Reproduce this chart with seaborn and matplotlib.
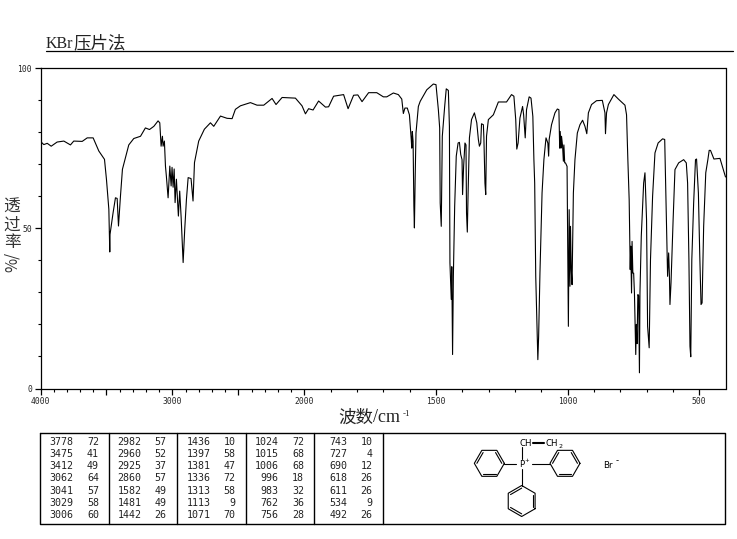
import numpy as np
import matplotlib
matplotlib.use('Agg')
import matplotlib.pyplot as plt
from matplotlib.ticker import FixedLocator, FixedFormatter
import pandas as pd
import seaborn as sns

# spectrum: wavenumber (cm-1) and transmittance (%)
wavenumber = [
    4000, 3995, 3975, 3949, 3919, 3874, 3823, 3773, 3748, 3684, 3646, 3601, 3558, 3515, 3500, 3482,
    3478, 3475, 3473, 3450, 3432, 3419, 3409, 3394, 3379, 3331, 3293, 3242, 3205, 3174, 3141, 3109,
    3096, 3086, 3076, 3071, 3061, 3053, 3046, 3033, 3020, 3010, 3003, 2995, 2987, 2980, 2970, 2955,
    2945, 2934, 2919, 2907, 2894, 2881, 2859, 2844, 2833, 2801, 2758, 2712, 2687, 2636, 2586, 2548,
    2523, 2485, 2409, 2359, 2308, 2245, 2215, 2169, 2068, 2018, 1996, 1984, 1967, 1946, 1920, 1908,
    1889, 1851, 1834, 1813, 1797, 1781, 1756, 1725, 1700, 1687, 1662, 1643, 1630, 1624, 1618, 1609,
    1601, 1594, 1592, 1590, 1587, 1584, 1582, 1579, 1576, 1567, 1560, 1535, 1510, 1500, 1491, 1486,
    1484, 1480, 1476, 1467, 1461, 1453, 1449, 1447, 1442, 1440, 1437, 1434, 1429, 1423, 1416, 1411,
    1406, 1401, 1399, 1395, 1390, 1386, 1384, 1381, 1378, 1373, 1365, 1354, 1345, 1339, 1335, 1330,
    1327, 1320, 1318, 1314, 1311, 1308, 1301, 1282, 1263, 1232, 1213, 1204, 1197, 1193, 1188, 1181,
    1171, 1167, 1161, 1156, 1146, 1139, 1132, 1128, 1125, 1121, 1115, 1113, 1110, 1105, 1097, 1090,
    1082, 1075, 1072, 1070, 1061, 1048, 1039, 1033, 1030, 1028, 1025, 1023, 1019, 1016, 1014, 1011,
    1008, 1002, 997, 994, 991, 989, 986, 983, 978, 972, 963, 953, 943, 934, 927, 921,
    909, 890, 868, 858, 856, 852, 845, 824, 807, 782, 776, 771, 766, 762, 760, 757,
    755, 752, 749, 746, 741, 739, 736, 733, 730, 727, 725, 720, 711, 706, 700, 696,
    690, 685, 677, 668, 656, 639, 631, 626, 620, 616, 613, 611, 607, 599, 592, 578,
    559, 549, 544, 539, 535, 532, 528, 521, 514, 510, 503, 498, 493, 489, 483, 475,
    467, 462, 457, 444, 421, 412, 400,
]
transmittance = [
    77.0, 76.9, 76.1, 76.5, 75.6, 76.9, 77.2, 76.0, 77.2, 77.1, 78.2, 78.2, 74.1, 71.5, 65.2, 55.9,
    48.0, 42.6, 48.1, 54.8, 59.5, 59.3, 50.7, 60.0, 68.4, 76.0, 78.0, 78.7, 81.3, 80.8, 81.8, 83.5,
    82.9, 75.6, 78.7, 75.6, 77.2, 69.4, 66.2, 59.5, 69.4, 63.2, 69.0, 62.8, 68.5, 58.0, 65.3, 53.8,
    61.6, 53.3, 39.3, 49.6, 59.0, 65.8, 65.5, 58.5, 70.5, 77.2, 80.9, 82.9, 81.8, 85.0, 84.3, 84.2,
    87.1, 88.2, 89.2, 88.4, 88.4, 90.5, 88.6, 90.8, 90.6, 88.2, 85.7, 87.3, 86.9, 89.7, 87.8, 87.9,
    91.2, 91.7, 87.3, 91.5, 91.6, 89.5, 92.3, 92.3, 91.0, 91.0, 92.2, 91.7, 90.3, 85.8, 87.5, 87.5,
    85.4, 77.7, 75.0, 80.2, 77.1, 56.9, 50.1, 66.2, 79.7, 88.0, 89.6, 93.2, 95.0, 94.8, 87.0, 81.3,
    57.9, 50.6, 78.7, 88.0, 93.5, 93.0, 81.8, 39.2, 27.8, 38.0, 10.6, 35.0, 56.9, 72.5, 76.6, 76.8,
    73.0, 71.4, 60.5, 69.3, 76.6, 76.0, 54.8, 48.8, 61.0, 78.2, 83.9, 86.0, 82.9, 77.7, 75.6, 76.6,
    82.6, 82.3, 78.2, 64.1, 60.5, 78.7, 83.9, 85.4, 89.4, 89.4, 91.7, 91.2, 83.9, 74.7, 76.6, 84.4,
    88.0, 85.4, 78.2, 87.0, 91.0, 90.6, 84.9, 71.4, 64.1, 35.0, 16.3, 9.0, 16.3, 36.0, 61.0, 71.4,
    78.2, 76.6, 72.5, 77.7, 82.3, 86.0, 87.2, 87.0, 75.0, 80.2, 75.0, 78.7, 75.6, 70.9, 76.0, 70.4,
    70.4, 69.3, 19.4, 55.8, 31.9, 50.6, 37.1, 32.4, 61.0, 71.4, 79.7, 82.3, 83.7, 81.8, 79.5, 86.0,
    88.6, 89.8, 89.9, 86.0, 79.5, 86.0, 88.6, 91.7, 90.3, 88.4, 85.4, 71.4, 58.9, 37.1, 44.4, 29.8,
    45.9, 36.0, 36.0, 29.8, 10.6, 20.0, 14.0, 29.3, 29.0, 4.9, 29.8, 47.5, 64.1, 67.3, 52.7, 19.4,
    12.7, 40.2, 60.0, 73.5, 76.6, 77.9, 77.7, 58.9, 35.0, 42.3, 35.0, 26.2, 33.0, 52.7, 68.3, 70.4,
    71.4, 70.4, 64.1, 40.2, 13.2, 9.9, 40.2, 57.9, 71.4, 71.6, 61.0, 42.3, 26.2, 26.7, 50.6, 67.3,
    71.4, 74.3, 74.3, 71.6, 71.8, 69.3, 66.0,
]

# peak table, one pair of lists per column
peak_wn = [
    [3778, 3475, 3412, 3062, 3041, 3029, 3006],
    [2982, 2960, 2925, 2860, 1582, 1481, 1442],
    [1436, 1397, 1381, 1336, 1313, 1113, 1071],
    [1024, 1015, 1006, 996, 983, 762, 756],
    [743, 727, 690, 618, 611, 534, 492],
]
peak_t = [
    [72, 41, 49, 64, 57, 58, 60],
    [57, 52, 37, 57, 49, 49, 26],
    [10, 58, 47, 72, 58, 9, 70],
    [72, 68, 68, 18, 32, 36, 28],
    [10, 4, 12, 26, 26, 9, 26],
]

sns.set_style('white')
CJK = ['Noto Sans CJK SC', 'DejaVu Sans']
plt.rcParams['font.family'] = CJK
W, H = 737, 539


# the axis is compressed above 2000 cm-1
def forward(w):
    w = np.asarray(w, dtype=float)
    return np.where(w <= 2000, w * 0.2633, 2000 * 0.2633 + (w - 2000) * 0.132)


def inverse(p):
    p = np.asarray(p, dtype=float)
    brk = 2000 * 0.2633
    return np.where(p <= brk, p / 0.2633, 2000 + (p - brk) / 0.132)


fig = plt.figure(figsize=(W / 100, H / 100), dpi=100)
ax = fig.add_axes([40.5 / W, 1 - 388.5 / H, 685 / W, 320.5 / H])

df = pd.DataFrame({'wn': wavenumber, 't': transmittance})
sns.lineplot(data=df, x='wn', y='t', sort=False, estimator=None, color='black', lw=0.8, ax=ax)

ax.set_xscale('function', functions=(forward, inverse))
ax.set_xlim(4000, 400)
ax.set_ylim(0, 100)
ax.set_xlabel('')
ax.set_ylabel('')

ax.xaxis.set_major_locator(FixedLocator([4000, 3500, 3000, 2500, 2000, 1500, 1000, 500]))
ax.xaxis.set_major_formatter(FixedFormatter(['4000', '', '3000', '', '2000', '1500', '1000', '500']))
ax.xaxis.set_minor_locator(FixedLocator(list(range(500, 4000, 100))))
ax.yaxis.set_major_locator(FixedLocator([0, 50, 100]))
ax.yaxis.set_major_formatter(FixedFormatter(['0', '50', '100']))
ax.yaxis.set_minor_locator(FixedLocator(list(range(10, 100, 10))))
ax.tick_params(which='major', direction='out', length=4, width=0.9, color='black', pad=2,
               labelsize=5.8, labelfontfamily='DejaVu Sans Mono')
ax.tick_params(which='minor', direction='out', length=2, width=0.8, color='black')
ax.tick_params(axis='x', which='both', bottom=True)
ax.tick_params(axis='y', which='both', left=True)
for s in ax.spines.values():
    s.set_color('black')
    s.set_linewidth(0.9)

# page axes in pixel coordinates for everything outside the plot frame
page = fig.add_axes([0, 0, 1, 1], facecolor='none')
page.set_xlim(0, W)
page.set_ylim(H, 0)
page.axis('off')

page.text(46, 48, 'KBr', fontsize=11.5, family=['Liberation Serif'], ha='left', va='baseline', color='#222222')
page.text(73, 48, '压片法', fontsize=12.6, ha='left', va='baseline', color='#222222')
page.plot([46, 733], [50.5, 50.5], color='black', lw=0.9)

page.text(338, 423, '波数', fontsize=12.6, ha='left', va='baseline', color='#222222')
page.text(373, 422, '/cm', fontsize=13, family=['Liberation Serif'], ha='left', va='baseline', color='#222222')
page.text(403, 416, '-1', fontsize=6.5, family=['Liberation Serif'], ha='left', va='baseline', color='#222222')

for ch, yy in zip('透过率', [207, 225, 242]):
    page.text(12, yy, ch, fontsize=12, ha='center', va='center', color='#333333')
page.text(12, 262, '%/', fontsize=11, rotation=90, ha='center', va='center', color='#333333')

# peak table
rows_y = [441.7, 453.7, 466, 478.3, 490.7, 503, 515.3]
wn_right = [73, 141.7, 210.7, 278.7, 347.3]
t_right = [99, 166.7, 235.3, 304, 372.3]
dividers = [109.5, 177.5, 246.5, 314.5, 383.5]
page.plot([40.5, 725.5, 725.5, 40.5, 40.5], [432.5, 432.5, 524, 524, 432.5], color='black', lw=1)
for d in dividers:
    page.plot([d, d], [432.5, 524], color='black', lw=1)
for c in range(5):
    for r, yy in enumerate(rows_y):
        page.text(wn_right[c], yy, str(peak_wn[c][r]), fontsize=7.2, family=['DejaVu Sans Mono'],
                  ha='right', va='center', color='#222222')
        page.text(t_right[c], yy, str(peak_t[c][r]), fontsize=7.2, family=['DejaVu Sans Mono'],
                  ha='right', va='center', color='#222222')


# structure drawing, coordinates given as in the picture crop
def zx(v):
    return 440 + v / 3


def zy(v):
    return 425 + v / 3


def ring(cx, cy, r, start, double):
    ang = np.radians(start + 60 * np.arange(7))
    xs = cx + r * np.cos(ang)
    ys = cy + r * np.sin(ang)
    page.plot(xs, ys, color='black', lw=0.8)
    for i in double:
        a = np.array([xs[i], ys[i]])
        b = np.array([xs[i + 1], ys[i + 1]])
        c = np.array([cx, cy])
        a2 = a + (c - a) * 0.17
        b2 = b + (c - b) * 0.17
        page.plot([a2[0], b2[0]], [a2[1], b2[1]], color='black', lw=0.8)


ring(zx(148), zy(115), 15, 0, [1, 3, 5])
ring(zx(375), zy(115), 15, 0, [1, 3, 5])
ring(zx(245), zy(228), 15.5, 30, [5, 1, 3])

bonds = [
    ((193, 118), (228, 118)),
    ((275, 118), (330, 118)),
    ((245, 102), (245, 65)),
    ((245, 132), (245, 182)),
]
for a, b in bonds:
    page.plot([zx(a[0]), zx(b[0])], [zy(a[1]), zy(b[1])], color='black', lw=0.8)
page.plot([zx(278), zx(313)], [zy(53), zy(53)], color='black', lw=1.5)

small = dict(fontsize=6.2, family=['DejaVu Sans'], va='center', color='black')
page.text(zx(238), zy(55), 'CH', ha='left', **small)
page.text(zx(318), zy(55), 'CH', ha='left', **small)
page.text(zx(356), zy(63), '2', ha='left', fontsize=4.5, family=['DejaVu Sans'], va='center', color='black')
page.text(zx(246), zy(119), 'P', ha='center', **small)
page.text(zx(261), zy(107), '+', ha='center', fontsize=4, family=['DejaVu Sans'], va='center', color='black')
page.text(zx(490), zy(120), 'Br', ha='left', **small)
page.text(zx(526), zy(106), '-', ha='left', **small)

fig.savefig('out.png', dpi=100)
